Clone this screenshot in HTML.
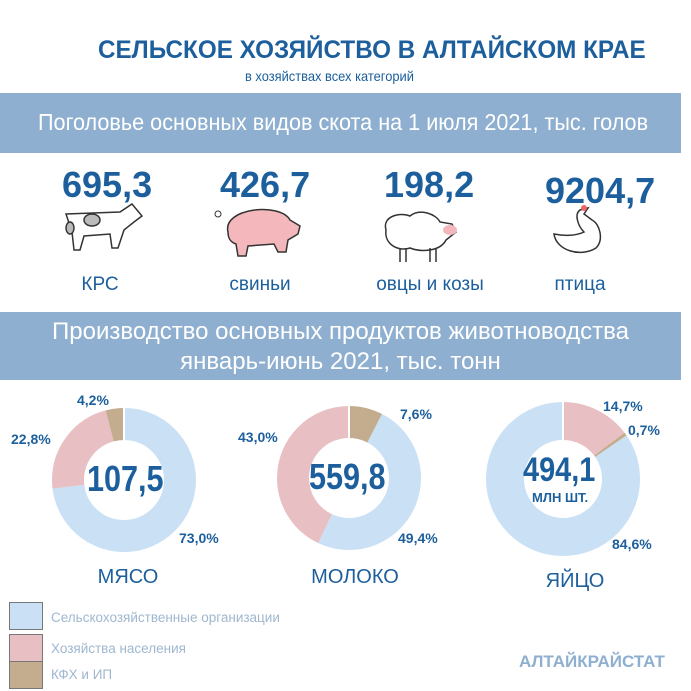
<!DOCTYPE html>
<html><head><meta charset="utf-8"><style>
body{margin:0;width:691px;height:691px;background:#fff;position:relative;overflow:hidden;font-family:"Liberation Sans",sans-serif;}
.a{position:absolute;white-space:nowrap;}
.t{color:#1c5f9c;}
.band{position:absolute;left:0;width:681px;background:#8eafcf;color:#fff;}
.num{font-weight:bold;font-size:36px;color:#1c5f9c;}
.lab{font-size:19px;color:#1c5f9c;text-align:center;}
.pct{font-weight:bold;font-size:14px;color:#1c5f9c;}
</style></head><body>
<div class="a t" style="left:98px;top:36px;font-size:25px;font-weight:bold;transform:scaleX(0.97);transform-origin:0 0;">СЕЛЬСКОЕ ХОЗЯЙСТВО В АЛТАЙСКОМ КРАЕ</div>
<div class="a t" style="left:245px;top:68px;font-size:14px;transform:scaleX(0.92);transform-origin:0 0;">в хозяйствах всех категорий</div>
<div class="band" style="top:93px;height:60px;"><div class="a" style="left:38px;top:16px;font-size:23px;transform:scaleX(0.94);transform-origin:0 0;">Поголовье основных видов скота на 1 июля 2021, тыс. голов</div></div>

<div class="a num" style="left:62px;top:164px;">695,3</div>
<div class="a num" style="left:220px;top:164px;">426,7</div>
<div class="a num" style="left:384px;top:164px;">198,2</div>
<div class="a num" style="left:545px;top:170px;">9204,7</div>

<svg class="a" style="left:0;top:200px" width="691" height="80">
<g stroke="#333" stroke-width="1.5" fill="#fff">
<path d="M66 14 L120 12 L132 4 L142 16 L134 22 L124 30 L118 48 L112 48 L110 34 L84 36 L80 50 L74 50 L72 32 Z"/>
<ellipse cx="92" cy="20" rx="8" ry="6" fill="#bbb"/><ellipse cx="70" cy="28" rx="4" ry="6" fill="#bbb"/>
</g>
<path d="M228 32 C222 8 280 2 290 20 L300 26 L298 34 L288 40 L286 52 L278 52 L274 44 L248 46 L246 56 L238 56 L236 44 C230 42 228 38 228 32 Z" fill="#f4b8bc" stroke="#333" stroke-width="1.5"/>
<circle cx="218" cy="14" r="3" fill="none" stroke="#333"/>
<path d="M386 30 C382 16 400 12 410 16 C420 8 436 14 440 22 L452 24 L456 32 L446 40 C440 52 420 52 410 48 C398 52 384 44 386 30 Z" fill="#fff" stroke="#333" stroke-width="1.5"/>
<ellipse cx="450" cy="30" rx="7" ry="5" fill="#f4b8bc"/>
<path d="M400 48 V62 M406 48 V62 M430 48 V62 M436 48 V62" stroke="#333" stroke-width="1.5"/>
<path d="M554 34 C556 50 580 58 596 48 C604 40 600 24 592 20 L584 14 L588 8 L580 10 C574 14 578 26 584 32 C576 36 564 36 554 34 Z" fill="#fff" stroke="#333" stroke-width="1.5"/>
<circle cx="584" cy="8" r="3" fill="#e66"/>
</svg>

<div class="a lab" style="left:60px;top:274px;width:80px;">КРС</div>
<div class="a lab" style="left:215px;top:274px;width:90px;">свиньи</div>
<div class="a lab" style="left:370px;top:274px;width:120px;">овцы и козы</div>
<div class="a lab" style="left:540px;top:274px;width:80px;">птица</div>

<div class="band" style="top:312px;height:68px;text-align:center;font-size:24px;line-height:30px;padding-top:5px;box-sizing:border-box;">Производство основных продуктов животноводства<br>январь-июнь 2021, тыс. тонн</div>

<svg class="a" style="left:0;top:380px" width="691" height="200">
<g fill="none" stroke-width="32">
<g transform="rotate(-90 124 100)">
<circle cx="124" cy="100" r="56" stroke="#c9e0f5" stroke-dasharray="256.8 1000"/>
<circle cx="124" cy="100" r="56" stroke="#e8c0c4" stroke-dasharray="80.2 1000" stroke-dashoffset="-256.8"/>
<circle cx="124" cy="100" r="56" stroke="#c4ad8e" stroke-dasharray="14.8 1000" stroke-dashoffset="-337"/>
</g>
<g transform="rotate(-90 349 98)">
<circle cx="349" cy="98" r="56" stroke="#c4ad8e" stroke-dasharray="26.7 1000"/>
<circle cx="349" cy="98" r="56" stroke="#c9e0f5" stroke-dasharray="173.8 1000" stroke-dashoffset="-26.7"/>
<circle cx="349" cy="98" r="56" stroke="#e8c0c4" stroke-dasharray="151.3 1000" stroke-dashoffset="-200.5"/>
</g>
<g transform="rotate(-90 563 99)" stroke-width="38">
<circle cx="563" cy="99" r="58" stroke="#e8c0c4" stroke-dasharray="53.6 1000"/>
<circle cx="563" cy="99" r="58" stroke="#c4ad8e" stroke-dasharray="2.6 1000" stroke-dashoffset="-53.6"/>
<circle cx="563" cy="99" r="58" stroke="#c9e0f5" stroke-dasharray="308.2 1000" stroke-dashoffset="-56.2"/>
</g>
</g>
<g stroke="#fff" stroke-width="2">
<line x1="124" y1="28" x2="124" y2="60"/><line x1="349" y1="26" x2="349" y2="58"/><line x1="563" y1="22" x2="563" y2="60"/>
</g>
</svg>

<div class="a" style="left:87px;top:458px;font-weight:bold;font-size:36px;color:#1c5f9c;transform:scaleX(0.85);transform-origin:0 0;">107,5</div>
<div class="a" style="left:309px;top:456px;font-weight:bold;font-size:36px;color:#1c5f9c;transform:scaleX(0.85);transform-origin:0 0;">559,8</div>
<div class="a" style="left:523px;top:451px;font-weight:bold;font-size:34px;color:#1c5f9c;transform:scaleX(0.85);transform-origin:0 0;">494,1</div>
<div class="a" style="left:532px;top:490px;font-weight:bold;font-size:13px;color:#1c5f9c;">МЛН ШТ.</div>

<div class="a pct" style="left:77px;top:392px;">4,2%</div>
<div class="a pct" style="left:11px;top:431px;">22,8%</div>
<div class="a pct" style="left:179px;top:530px;">73,0%</div>
<div class="a pct" style="left:400px;top:406px;">7,6%</div>
<div class="a pct" style="left:238px;top:429px;">43,0%</div>
<div class="a pct" style="left:398px;top:530px;">49,4%</div>
<div class="a pct" style="left:603px;top:398px;">14,7%</div>
<div class="a pct" style="left:628px;top:422px;">0,7%</div>
<div class="a pct" style="left:612px;top:536px;">84,6%</div>

<div class="a lab" style="left:88px;top:566px;width:80px;font-size:20px;">МЯСО</div>
<div class="a lab" style="left:305px;top:566px;width:100px;font-size:20px;">МОЛОКО</div>
<div class="a lab" style="left:535px;top:570px;width:80px;font-size:20px;">ЯЙЦО</div>

<div class="a" style="left:9px;top:602px;width:32px;height:26px;background:#c9e0f5;border:1px solid #777;"></div>
<div class="a" style="left:9px;top:634px;width:32px;height:26px;background:#e8c0c4;border:1px solid #777;"></div>
<div class="a" style="left:9px;top:661px;width:32px;height:26px;background:#c4ad8e;border:1px solid #777;"></div>
<div class="a" style="left:51px;top:610px;font-size:13.5px;color:#9fb7cf;">Сельскохозяйственные организации</div>
<div class="a" style="left:51px;top:641px;font-size:13.5px;color:#9fb7cf;">Хозяйства населения</div>
<div class="a" style="left:51px;top:667px;font-size:13.5px;color:#9fb7cf;">КФХ и ИП</div>
<div class="a" style="left:519px;top:652px;font-weight:bold;font-size:17px;color:#8eafcf;">АЛТАЙКРАЙСТАТ</div>
</body></html>
